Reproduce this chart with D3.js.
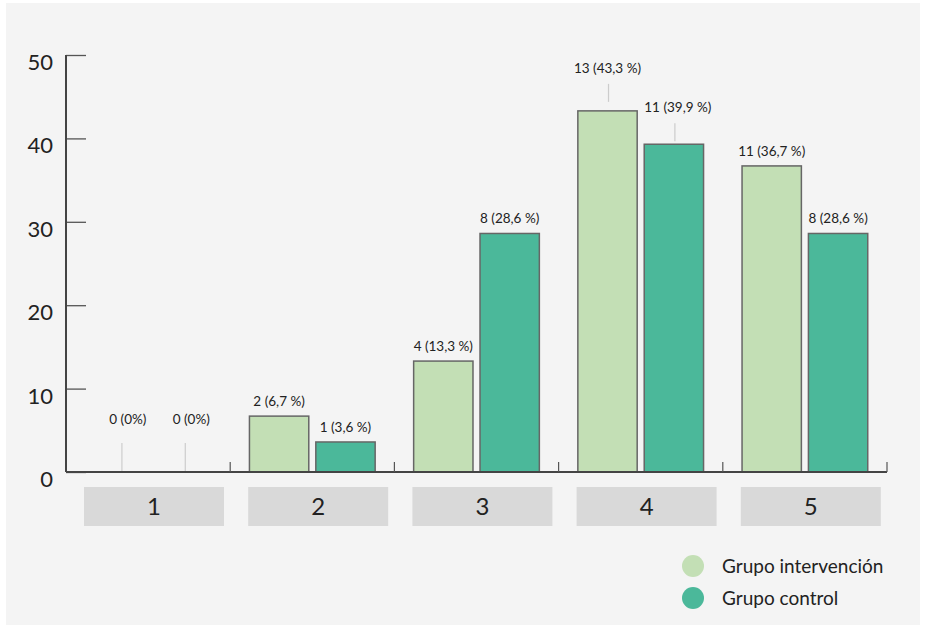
<!DOCTYPE html>
<html><head>
<meta charset="utf-8">
<script src="https://d3js.org/d3.v7.min.js"></script>
<style>
  body { margin: 0; background: #fff; }
  svg { display: block; font-family: "Lato", "Open Sans", sans-serif; }
</style>
</head>
<body>
<svg id="chart" width="926" height="630"></svg>
<script>
// data
let categories = ["1", "2", "3", "4", "5"];
let series = ["Grupo intervención", "Grupo control"];
let intervencion = [0, 6.7, 13.3, 43.3, 36.7];
let control = [0, 3.6, 28.6, 39.3, 28.6];
let labelsIntervencion = ["0 (0%)", "2 (6,7 %)", "4 (13,3 %)", "13 (43,3 %)", "11 (36,7 %)"];
let labelsControl = ["0 (0%)", "1 (3,6 %)", "8 (28,6 %)", "11 (39,9 %)", "8 (28,6 %)"];
let yTicks = [0, 10, 20, 30, 40, 50];
let colors = ["#c3dfb5", "#4bb89a"];

let svg = d3.select("#chart");

// panel background
svg.append("rect")
    .attr("x", 6).attr("y", 3)
    .attr("width", 914).attr("height", 622)
    .style("fill", "#f4f4f4");

let mLeft = 66, mRight = 887, mTop = 55, mBottom = 472;

let x = d3.scaleBand().domain(categories).range([mLeft, mRight]);
let x1 = d3.scaleBand().domain([0, 1]).range([0, x.bandwidth()]).paddingInner(0.106).paddingOuter(0.29);
let y = d3.scaleLinear().domain([0, 50]).range([mBottom, mTop]);

// y axis
let yAxis = svg.append("g")
    .attr("transform", "translate(" + mLeft + ",0)")
    .call(d3.axisRight(y).tickValues(yTicks).tickSize(20).tickFormat(""));
yAxis.select(".domain").remove();
yAxis.selectAll(".tick line").style("stroke", "#555").style("stroke-width", 1.3);

svg.append("line")
    .attr("x1", mLeft).attr("x2", mLeft)
    .attr("y1", mTop).attr("y2", mBottom)
    .style("stroke", "#444").style("stroke-width", 2);

// tick labels sit a little below their ticks
svg.selectAll(".ylab")
  .data(yTicks)
  .enter().append("text")
    .attr("x", 53)
    .attr("y", d => y(d) + 7)
    .attr("dy", "0.36em")
    .attr("text-anchor", "end")
    .style("font-size", "22px")
    .style("fill", "#222")
    .text(d => d);

// bars
let groups = svg.selectAll(".grp")
  .data(categories)
  .enter().append("g")
    .attr("transform", d => "translate(" + x(d) + ",0)");

let rows = categories.map((c, i) => [
  {v: intervencion[i], label: labelsIntervencion[i], s: 0},
  {v: control[i], label: labelsControl[i], s: 1}
]);

groups.each(function(c, i) {
  let g = d3.select(this);
  rows[i].forEach(function(d) {
    if (d.v > 0) {
      g.append("rect")
          .attr("x", x1(d.s))
          .attr("y", y(d.v))
          .attr("width", x1.bandwidth())
          .attr("height", y(0) - y(d.v))
          .style("fill", colors[d.s])
          .style("stroke", "#666")
          .style("stroke-width", 1.5);
    }
  });
});

// labels
groups.each(function(c, i) {
  let g = d3.select(this);
  rows[i].forEach(function(d) {
    let cx = x1(d.s) + x1.bandwidth() / 2;
    let ly = y(d.v) - 10;
    if (d.v === 0) {
      // empty bars: label floats above a thin line
      let lx = cx + (d.s === 0 ? 7 : 4);
      cx = lx + 6;
      ly = y(d.v) - 48;
      g.append("line")
          .attr("x1", lx).attr("x2", lx)
          .attr("y1", y(0) - 29).attr("y2", y(0))
          .style("stroke", "#ccc").style("stroke-width", 1.2);
    } else if (i === 3) {
      // lead line for the tallest group
      let a = d.s === 0 ? 27 : 21;
      let b = d.s === 0 ? 9 : 3;
      ly = y(d.v) - (d.s === 0 ? 38 : 32);
      g.append("line")
          .attr("x1", cx + 1).attr("x2", cx + 1)
          .attr("y1", y(d.v) - a).attr("y2", y(d.v) - b)
          .style("stroke", "#ccc").style("stroke-width", 1.2);
      if (d.s === 1) cx += 4;
    }
    g.append("text")
        .attr("x", cx)
        .attr("y", ly)
        .attr("text-anchor", "middle")
        .style("font-size", "13.5px")
        .style("fill", "#222")
        .text(d.label);
  });
});

// x axis line
svg.append("line")
    .attr("x1", mLeft).attr("x2", mRight)
    .attr("y1", mBottom).attr("y2", mBottom)
    .style("stroke", "#444").style("stroke-width", 1.8);

svg.selectAll(".xtick")
  .data(categories)
  .enter().append("line")
    .attr("x1", d => x(d) + x.bandwidth())
    .attr("x2", d => x(d) + x.bandwidth())
    .attr("y1", mBottom - 10).attr("y2", mBottom)
    .style("stroke", "#555").style("stroke-width", 1.2);

// category boxes
let boxes = svg.selectAll(".cat")
  .data(categories)
  .enter().append("g")
    .attr("transform", d => "translate(" + x(d) + ",0)");

boxes.append("rect")
    .attr("x", 18)
    .attr("y", 487)
    .attr("width", 140)
    .attr("height", 39)
    .style("fill", "#d9d9d9");

boxes.append("text")
    .attr("x", 18 + 70)
    .attr("y", 506)
    .attr("dy", "0.36em")
    .attr("text-anchor", "middle")
    .style("font-size", "24px")
    .style("fill", "#222")
    .text(d => d);

// legend
let legend = svg.selectAll(".leg")
  .data(series)
  .enter().append("g")
    .attr("transform", (d, i) => "translate(693," + (566 + i * 32) + ")");

legend.append("circle")
    .attr("r", 11)
    .style("fill", (d, i) => colors[i]);

legend.append("text")
    .attr("x", 29)
    .attr("dy", "0.36em")
    .style("font-size", "19px")
    .style("fill", "#222")
    .text(d => d);
</script>
</body>
</html>
